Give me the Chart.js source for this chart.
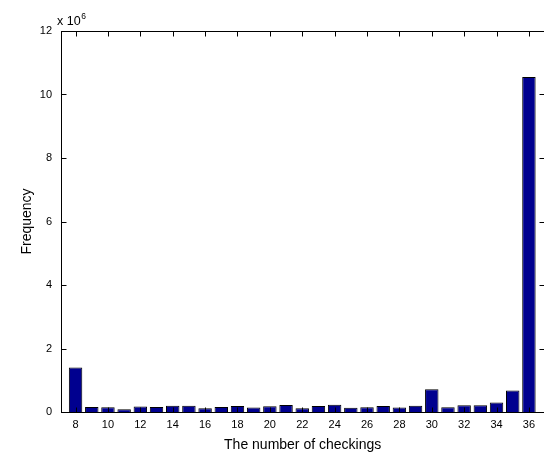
<!DOCTYPE html>
<html>
<head>
<meta charset="utf-8">
<script src="https://cdn.jsdelivr.net/npm/chart.js@4"></script>
<style>
  html, body { margin: 0; padding: 0; background: #fff; overflow: hidden; }
  canvas { display: block; }
</style>
</head>
<body>
<canvas id="freqChart" width="547" height="457"></canvas>
<script>
// number of checkings and how often each occurred (in units of 10^6)
const checkings = [8, 9, 10, 11, 12, 13, 14, 15, 16, 17, 18, 19, 20, 21, 22,
                   23, 24, 25, 26, 27, 28, 29, 30, 31, 32, 33, 34, 35, 36];
const frequency = [1.40, 0.16, 0.15, 0.09, 0.17, 0.16, 0.20, 0.20, 0.12, 0.16,
                   0.19, 0.14, 0.18, 0.22, 0.12, 0.19, 0.23, 0.13, 0.15, 0.19,
                   0.14, 0.20, 0.72, 0.15, 0.21, 0.21, 0.30, 0.68, 10.55];
const xTicks = [8, 10, 12, 14, 16, 18, 20, 22, 24, 26, 28, 30, 32, 34, 36];
const yTicks = [0, 2, 4, 6, 8, 10, 12];

const FONT = 'Liberation Sans, Arial, Helvetica, sans-serif';

// matlab style box: axis lines on all sides, ticks pointing inward, exponent label
const boxPlugin = {
    id: 'matlabBox',
    afterDraw(chart) {
        const ctx = chart.ctx;
        const area = chart.chartArea;
        const xs = chart.scales.x;
        const ys = chart.scales.y;
        const L = Math.round(area.left) + 0.5;
        const R = Math.round(area.right) + 0.5;
        const T = Math.round(area.top) + 0.5;
        const B = Math.round(area.bottom) + 0.5;
        const len = 5;

        ctx.save();
        ctx.strokeStyle = '#000';
        ctx.lineWidth = 1;
        ctx.strokeRect(L, T, R - L, B - T);

        ctx.beginPath();
        xTicks.forEach(v => {
            const px = Math.round(xs.getPixelForValue(v)) + 0.5;
            ctx.moveTo(px, B); ctx.lineTo(px, B - len);
            ctx.moveTo(px, T); ctx.lineTo(px, T + len);
        });
        yTicks.forEach(v => {
            const py = Math.round(ys.getPixelForValue(v)) + 0.5;
            ctx.moveTo(L, py); ctx.lineTo(L + len, py);
            ctx.moveTo(R, py); ctx.lineTo(R - len, py);
        });
        ctx.stroke();

        ctx.fillStyle = '#000';
        ctx.textBaseline = 'alphabetic';
        ctx.textAlign = 'left';
        ctx.font = '12.5px ' + FONT;
        ctx.fillText('x 10', area.left - 4, area.top - 6);
        const w = ctx.measureText('x 10').width;
        ctx.font = '8.5px ' + FONT;
        ctx.fillText('6', area.left - 4 + w + 0.5, area.top - 12.5);
        ctx.restore();
    }
};

const ctx = document.getElementById('freqChart').getContext('2d');
new Chart(ctx, {
    type: 'bar',
    data: {
        datasets: [{
            label: 'Frequency',
            data: checkings.map((c, i) => ({ x: c, y: frequency[i] })),
            backgroundColor: '#00008f',
            borderColor: '#000',
            borderWidth: 1,
            barPercentage: 0.83,
            categoryPercentage: 1.0
        }]
    },
    options: {
        responsive: false,
        animation: false,
        layout: { padding: { top: 31, right: 2.7, left: 0, bottom: 0 } },
        plugins: {
            legend: { display: false },
            tooltip: { enabled: false }
        },
        scales: {
            x: {
                type: 'linear',
                min: 7.1,
                max: 36.95,
                offset: false,
                grid: { display: false, drawTicks: false },
                border: { display: false },
                afterBuildTicks: s => { s.ticks = xTicks.map(v => ({ value: v })); },
                afterFit: s => { s.height = 45; },
                ticks: {
                    autoSkip: false,
                    maxRotation: 0,
                    padding: 6,
                    color: '#000',
                    font: { family: FONT, size: 11 }
                },
                title: {
                    display: true,
                    text: 'The number of checkings',
                    color: '#000',
                    font: { family: FONT, size: 14 },
                    padding: { top: 0, bottom: 3 }
                }
            },
            y: {
                min: 0,
                max: 12,
                grid: { display: false, drawTicks: false },
                border: { display: false },
                afterBuildTicks: s => { s.ticks = yTicks.map(v => ({ value: v })); },
                afterFit: s => { s.width = 61; },
                ticks: {
                    padding: 9,
                    color: '#000',
                    font: { family: FONT, size: 11 }
                },
                title: {
                    display: true,
                    text: 'Frequency',
                    color: '#000',
                    font: { family: FONT, size: 14 },
                    padding: { top: 19, bottom: 0 }
                }
            }
        }
    },
    plugins: [boxPlugin]
});
</script>
</body>
</html>
